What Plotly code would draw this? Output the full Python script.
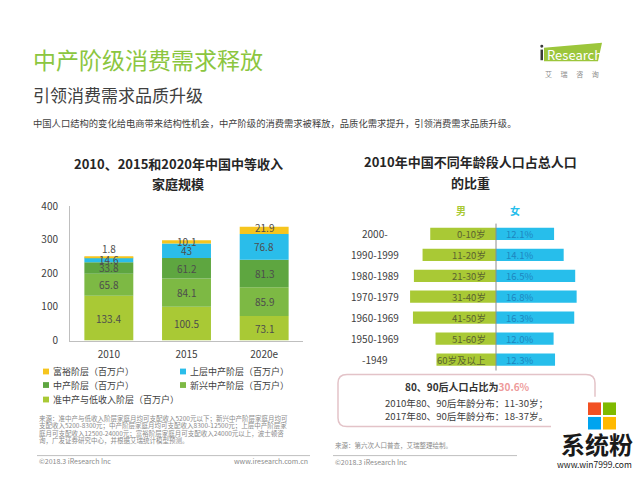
import plotly.graph_objects as go

# ---------------- data ----------------
years = ["2010", "2015", "2020e"]
rich = [1.8, 10.1, 21.9]          # 富裕阶层
upper_mid = [14.6, 43, 76.8]      # 上层中产阶层
middle = [33.8, 61.2, 81.3]       # 中产阶层
emerging = [65.8, 84.1, 85.9]     # 新兴中产阶层
lower = [133.4, 100.5, 73.1]      # 准中产与低收入阶层
y_ticks = [0, 100, 200, 300, 400]

birth_groups = ["2000-", "1990-1999", "1980-1989", "1970-1979", "1960-1969", "1950-1969", "-1949"]
age_groups = ["0-10岁", "11-20岁", "21-30岁", "31-40岁", "41-50岁", "51-60岁", "60岁及以上"]
female_pct = [12.1, 14.1, 16.5, 16.8, 16.3, 12.0, 12.3]
male_pct = [13.7, 15.3, 17.1, 17.9, 17.3, 12.6, 12.4]   # not labelled

FONT = "Noto Sans CJK SC"
C_LOWER = "#A9C935"
C_EMERG = "#7DB944"
C_MID = "#5EA640"
C_UPPER = "#2ABDEA"
C_RICH = "#F6C51E"
GREEN_T = "#8CC63F"

series = [
    ("准中产与低收入阶层（百万户）", lower, C_LOWER),
    ("新兴中产阶层（百万户）", emerging, C_EMERG),
    ("中产阶层（百万户）", middle, C_MID),
    ("上层中产阶层（百万户）", upper_mid, C_UPPER),
    ("富裕阶层（百万户）", rich, C_RICH),
]

def px_x(p):
    return p / 640.0

def px_y(p):
    return 1 - p / 480.0

fig = go.Figure()
annotations = []
shapes = []

# ---------------- left: stacked bars ----------------
xi = list(range(len(years)))
cum = [0.0] * len(years)
for name, vals, col in series:
    fig.add_trace(go.Bar(x=xi, y=vals, name=name, marker=dict(color=col, line=dict(width=0)),
                         width=0.63, xaxis="x", yaxis="y", showlegend=False, hoverinfo="skip"))
    for i, v in enumerate(vals):
        if name.startswith("富裕"):
            yv = cum[i] + v
            ys = 8 if v < 5 else -1
        else:
            yv = cum[i] + v / 2
            ys = 0
        annotations.append(dict(x=xi[i], y=yv, xref="x", yref="y", text=f"{v:g}", showarrow=False,
                                yshift=ys, font=dict(family=FONT, size=10, color="#4d4d4d")))
        cum[i] += v

# ---------------- right: population pyramid ----------------
rows = list(range(len(birth_groups)))
fig.add_trace(go.Bar(y=rows, x=[-v for v in male_pct], orientation="h", width=0.585,
                     marker=dict(color="#A9C935", line=dict(width=0)), xaxis="x2", yaxis="y2",
                     showlegend=False, hoverinfo="skip"))
fig.add_trace(go.Bar(y=rows, x=female_pct, orientation="h", width=0.585,
                     marker=dict(color="#27BEEB", line=dict(width=0)), xaxis="x2", yaxis="y2",
                     showlegend=False, hoverinfo="skip"))
for r, bg, ag, fv in zip(rows, birth_groups, age_groups, female_pct):
    annotations.append(dict(x=px_x(375), y=r, xref="paper", yref="y2", text=bg, showarrow=False,
                            xanchor="center", font=dict(family=FONT, size=10, color="#404040")))
    annotations.append(dict(x=0, y=r, xref="x2", yref="y2", text=ag, showarrow=False, xanchor="right",
                            xshift=-8, font=dict(family=FONT, size=9.5, color="#5b6330")))
    annotations.append(dict(x=0, y=r, xref="x2", yref="y2", text=f"{fv:.1f}%", showarrow=False,
                            xanchor="left", xshift=8, font=dict(family=FONT, size=9.5, color="#1E86BF")))

shapes.append(dict(type="line", xref="x2", yref="paper", x0=0, x1=0, y0=px_y(222), y1=px_y(374),
                   line=dict(color="#8c8c8c", width=1)))
annotations.append(dict(x=px_x(468), y=px_y(208), xref="paper", yref="paper", text="<b>男</b>", showarrow=False,
                        font=dict(family=FONT, size=10, color="#A9C935")))
annotations.append(dict(x=px_x(522), y=px_y(208), xref="paper", yref="paper", text="<b>女</b>", showarrow=False,
                        font=dict(family=FONT, size=10, color="#27BEEB")))

# ---------------- titles ----------------
def txt(x, y, t, size, color, xanchor="left", yanchor="middle"):
    annotations.append(dict(x=px_x(x), y=px_y(y), xref="paper", yref="paper", text=t, showarrow=False,
                            xanchor=xanchor, yanchor=yanchor, font=dict(family=FONT, size=size, color=color)))

txt(31, 52, "中产阶级消费需求释放", 23, GREEN_T)
txt(31, 88, "引领消费需求品质升级", 17, "#404040")
txt(31, 118, "中国人口结构的变化给电商带来结构性机会，中产阶级的消费需求被释放，品质化需求提升，引领消费需求品质升级。", 9.3, "#404040")

txt(178, 160, "<b>2010、2015和2020年中国中等收入</b>", 13, "#262626", xanchor="center")
txt(178, 181, "<b>家庭规模</b>", 13, "#262626", xanchor="center")
txt(470, 158, "<b>2010年中国不同年龄段人口占总人口</b>", 13, "#262626", xanchor="center")
txt(470, 179, "<b>的比重</b>", 13, "#262626", xanchor="center")

# ---------------- legend (manual) ----------------
legend_items = [
    (43, 375, "富裕阶层（百万户）", C_RICH),
    (180, 375, "上层中产阶层（百万户）", C_UPPER),
    (43, 389, "中产阶层（百万户）", C_MID),
    (180, 389, "新兴中产阶层（百万户）", C_EMERG),
    (43, 404, "准中产与低收入阶层（百万户）", C_LOWER),
]
for lx, ly, lt, lc in legend_items:
    shapes.append(dict(type="rect", xref="paper", yref="paper", x0=px_x(lx), x1=px_x(lx + 6),
                       y0=px_y(ly + 3), y1=px_y(ly - 3), fillcolor=lc, line=dict(width=0)))
    txt(lx + 8, ly, lt, 9, "#404040")

# ---------------- notes / footers ----------------
notes = ["来源：准中产与低收入阶层家庭月均可支配收入5200元以下；新兴中产阶层家庭月均可",
         "支配收入5200-8300元；中产阶层家庭月均可支配收入8300-12500元；上层中产阶层家",
         "庭月可支配收入12500-24000元；富裕阶层家庭月可支配收入24000元以上，波士顿咨",
         "询，广发证券研究中心，并根据艾瑞统计模型预测。"]
for k, n in enumerate(notes):
    txt(37, 423 + k * 7.7, n, 6.5, "#8a8a8a")

shapes.append(dict(type="line", xref="paper", yref="paper", x0=px_x(37), x1=px_x(310), y0=px_y(462), y1=px_y(462),
                   line=dict(color="#bfbfbf", width=1)))
txt(37, 468, "©2018.3 iResearch Inc", 7, "#8a8a8a")
txt(310, 468, "www.iresearch.com.cn", 7, "#8a8a8a", xanchor="right")

txt(333, 451, "来源：第六次人口普查，艾瑞整理绘制。", 6.5, "#8a8a8a")
shapes.append(dict(type="line", xref="paper", yref="paper", x0=px_x(333), x1=px_x(517), y0=px_y(462), y1=px_y(462),
                   line=dict(color="#bfbfbf", width=1)))
txt(333, 469, "©2018.3 iResearch Inc", 7, "#8a8a8a")

# ---------------- callout box ----------------
bx0, bx1, by0, by1, rr = 338, 595, 378, 432, 9
path = (f"M {bx0 + rr},{by0} L {bx1 - rr},{by0} Q {bx1},{by0} {bx1},{by0 + rr} "
        f"L {bx1},{by1 - rr} Q {bx1},{by1} {bx1 - rr},{by1} L {bx0 + rr},{by1} "
        f"Q {bx0},{by1} {bx0},{by1 - rr} L {bx0},{by0 + rr} Q {bx0},{by0} {bx0 + rr},{by0} Z")
def conv_path(p):
    out = []
    for tok in p.split(" "):
        if "," in tok:
            a, b = tok.split(",")
            out.append(f"{px_x(float(a)):.5f},{px_y(float(b)):.5f}")
        else:
            out.append(tok)
    return " ".join(out)
shapes.append(dict(type="path", xref="paper", yref="paper", path=conv_path(path),
                   fillcolor="rgba(255,255,255,0)", line=dict(color="#E3C3C8", width=1.5)))
txt(467, 390, "<b>80、90后人口占比为</b><b><span style='color:#EE9A9A'>30.6%</span></b>", 10, "#333333", xanchor="center")
txt(466, 408, "2010年80、90后年龄分布：11-30岁；", 9.6, "#404040", xanchor="center")
txt(466, 421, "2017年80、90后年龄分布：18-37岁。", 9.6, "#404040", xanchor="center")

# ---------------- iResearch logo ----------------
logo = f"M {px_x(544):.5f},{px_y(40):.5f} L {px_x(602):.5f},{px_y(35):.5f} L {px_x(598):.5f},{px_y(54):.5f} L {px_x(544):.5f},{px_y(54):.5f} Z"
shapes.append(dict(type="path", xref="paper", yref="paper", path=logo, fillcolor="#9CC63B", line=dict(width=0)))
shapes.append(dict(type="rect", xref="paper", yref="paper", x0=px_x(540.5), x1=px_x(543), y0=px_y(53), y1=px_y(42),
                   fillcolor="#3a3a3a", line=dict(width=0)))
shapes.append(dict(type="circle", xref="paper", yref="paper", x0=px_x(540.3), x1=px_x(543.3), y0=px_y(40), y1=px_y(37),
                   fillcolor="#3a3a3a", line=dict(width=0)))
txt(545, 47, "Research", 13, "#ffffff")
txt(572, 67, "艾　 瑞　 咨　 询", 7, "#8a8a8a", xanchor="center")

# ---------------- watermark ----------------
shapes.append(dict(type="rect", xref="paper", yref="paper", x0=px_x(551), x1=px_x(640), y0=px_y(480), y1=px_y(401),
                   fillcolor="white", line=dict(width=0)))
for (sx, sy, sc) in [(588, 407, "#F25022"), (603, 407, "#7FBA00"), (588, 422, "#00A4EF"), (603, 422, "#FFB900")]:
    shapes.append(dict(type="rect", xref="paper", yref="paper", x0=px_x(sx), x1=px_x(sx + 13),
                       y0=px_y(sy + 13), y1=px_y(sy), fillcolor=sc, line=dict(width=0)))
txt(597, 449, "<b>系统粉</b>", 24, "#1a1a1a", xanchor="center")
txt(594, 471, "www.win7999.com", 8.5, "#1a1a1a", xanchor="center")

# ---------------- layout ----------------
fig.update_layout(
    width=640, height=480, margin=dict(l=0, r=0, t=0, b=0),
    paper_bgcolor="white", plot_bgcolor="white", barmode="relative",
    font=dict(family=FONT, color="#404040"),
    xaxis=dict(domain=[px_x(70), px_x(303)], range=[-0.5, len(years) - 0.5], tickvals=xi, ticktext=years,
               showgrid=False, zeroline=False, showline=True, linecolor="#bfbfbf",
               linewidth=1, ticks="", tickfont=dict(family=FONT, size=10, color="#404040"), ticklabelstandoff=4,
               fixedrange=True, anchor="y"),
    yaxis=dict(domain=[px_y(343), px_y(204)], range=[0, 400], tickvals=y_ticks, showgrid=False, zeroline=False,
               showline=True, linecolor="#bfbfbf", linewidth=1, ticks="", anchor="x",
               tickfont=dict(family=FONT, size=10, color="#404040"), ticklabelstandoff=9, fixedrange=True),
    xaxis2=dict(domain=[px_x(400), px_x(592)], range=[-20, 20], visible=False, anchor="y2", fixedrange=True),
    yaxis2=dict(domain=[px_y(373.5), px_y(221.8)], range=[6.5, -0.5], visible=False, anchor="x2", fixedrange=True),
    annotations=annotations, shapes=shapes,
)

fig.write_html("out.html")
